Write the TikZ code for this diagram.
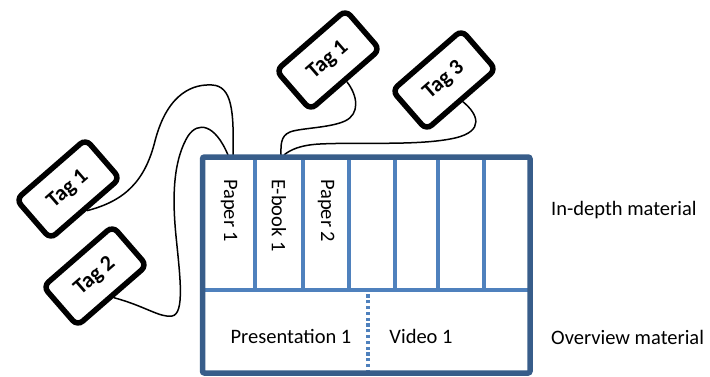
\documentclass[tikz,border=0pt]{standalone}
\usepackage{fontspec}
\setmainfont{Carlito}
\definecolor{framedark}{HTML}{385D8A}
\definecolor{framelight}{HTML}{4F81BD}

\begin{document}
\begin{tikzpicture}[x=1pt, y=1pt,
    tagbox/.style={draw, line width=5.5pt, rounded corners=7pt, rotate=41,
      minimum width=92pt, minimum height=52pt,
      font=\bfseries\fontsize{22}{26}\selectfont},
    divider/.style={framelight, line width=4pt},
    label/.style={inner sep=0pt, font=\fontsize{20.5}{24}\selectfont},
    wire/.style={line width=1.5pt}]
      \useasboundingbox (0,0) rectangle (710,376);

      % draw the tags
      \node[tagbox] (tagA) at (328,316) {Tag 1};
      \node[tagbox] (tagC) at (444,296) {Tag 3};
      \node[tagbox] (tagL) at (68,187) {Tag 1};
      \node[tagbox] (tagM) at (95,100) {Tag 2};

      % where the strings meet the top of the shelf
      \coordinate (pinL) at (233,221);
      \coordinate (pinM) at (228,221);
      \coordinate (pinA) at (281,221);
      \coordinate (pinC) at (284,221);

      % draw the strings
      \draw[wire] (tagL.south) .. controls (125,175) and (145,195) .. (155,235)
        .. controls (168,285) and (195,292) .. (212,291)
        .. controls (232,290) and (234,265) .. (pinL);
      \draw[wire] (tagM.south) .. controls (145,70) and (160,58) .. (172,60)
        .. controls (185,62) and (180,100) .. (176,140)
        .. controls (171,190) and (176,220) .. (188,240)
        .. controls (198,255) and (215,252) .. (pinM);
      \draw[wire] (tagA.south) .. controls (358,280) and (360,262) .. (345,255)
        .. controls (330,248) and (300,248) .. (290,244)
        .. controls (280,240) and (281,230) .. (pinA);
      \draw[wire] (tagC.south) .. controls (478,262) and (485,245) .. (455,238)
        .. controls (420,230) and (360,234) .. (320,232)
        .. controls (300,231) and (290,226) .. (pinC);

      % draw the shelf
      \foreach \x in {255,303,349,395,438,484}
        \draw[divider] (\x,86) -- (\x,219);
      \draw[divider] (202.5,86) -- (530,86);
      \draw[divider, line width=3.5pt, dash pattern=on 3.2pt off 2.6pt] (368,3) -- (368,86);
      \draw[framedark, line width=5.5pt, rounded corners=2pt] (202.5,3) rectangle (530,219);

      % items on the shelf
      \node[label, rotate=-90, anchor=west] (paperA) at (229,197) {Paper 1};
      \node[label, rotate=-90, anchor=west] (ebook) at (279,197) {E-book 1};
      \node[label, rotate=-90, anchor=west] (paperB) at (326,197) {Paper 2};
      \node[label] (pres) at (291,40) {Presentation 1};
      \node[label] (video) at (421,40) {Video 1};

      \node[label, anchor=west] (deep) at (551,166) {In-depth material};
      \node[label, anchor=west] (overview) at (551,39) {Overview material};
    \end{tikzpicture}
\end{document}
